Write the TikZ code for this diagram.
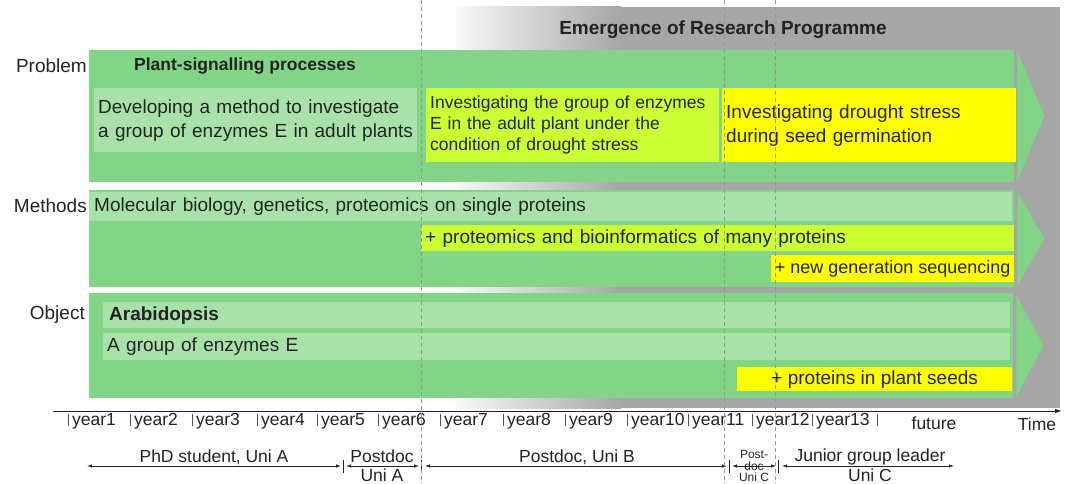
\documentclass[tikz,border=0pt]{standalone}
\usepackage{fontspec}
\setmainfont{Liberation Sans}
\usetikzlibrary{positioning,arrows.meta,calc}
\definecolor{rpGreen}{RGB}{130,213,135}
\definecolor{rpPale}{RGB}{168,226,170}
\definecolor{rpLime}{RGB}{204,255,51}
\definecolor{rpYellow}{RGB}{255,255,0}
\definecolor{rpGray}{RGB}{166,166,166}
\definecolor{rpText}{RGB}{35,35,35}
\definecolor{rpDash}{RGB}{150,150,150}
\newcommand{\fsz}[2]{\fontsize{#1}{#2}\selectfont}
\tikzset{
    base/.style={text=rpText, font=\fsz{19}{24}},
    band/.style={fill=rpGreen, anchor=north west, inner sep=0pt},
    entry/.style={base, anchor=north west, inner xsep=4pt, inner ysep=0pt, align=left},
    pale/.style={entry, fill=rpPale},
    lime/.style={entry, fill=rpLime},
    yell/.style={entry, fill=rpYellow},
    rowlabel/.style={base, anchor=east, inner sep=0pt},
    yearlabel/.style={base, font=\fsz{17.5}{20}, anchor=west, inner sep=0pt},
    careerlabel/.style={base, font=\fsz{17.5}{20}, inner sep=0pt},
    minilabel/.style={base, font=\fsz{12}{14}, inner sep=0pt},
    span/.style={{Latex[length=5pt,width=3.5pt]}-{Latex[length=5pt,width=3.5pt]}, line width=0.8pt, color=rpText},
    divider/.style={line width=0.8pt, color=rpText},
    yeartick/.style={line width=1pt, color=rpText!80},
    timeline/.style={-{Latex[length=7pt,width=4.5pt]}, line width=1pt, color=rpText},
    guide/.style={rpDash, line width=0.6pt, dash pattern=on 4pt off 3pt}
}
\begin{document}
\begin{tikzpicture}[x=1pt, y=-1pt]
  \useasboundingbox (0,0) rectangle (1068,484);

  % Research programme banner
  \shade[left color=white!92!rpGray, right color=rpGray] (456,7) rectangle (621,408);
  \fill[rpGray] (620,7) rectangle (1060,408);
  \node[base, font=\bfseries\fsz{19}{22}] (banner) at (723,30) {Emergence of Research Programme};

  % Rows
  \node[band, minimum width=925, minimum height=132] (problem) at (89,50) {};
  \node[band, minimum width=925, minimum height=97] (methods) at (89,190) {};
  \node[band, minimum width=924, minimum height=105] (object) at (89,293) {};
  \foreach \r in {problem,methods,object}
    \fill[rpGreen] ($(\r.north east)+(3,2)$) -- ($(\r.east)+(30,0)$) -- ($(\r.south east)+(3,-2)$) -- cycle;

  \node[rowlabel] (lblProblem) at (87,66) {Problem};
  \node[rowlabel] (lblMethods) at (87,206) {Methods};
  \node[rowlabel] (lblObject) at (85,315) {Object};

  % Problem row
  \node[base, font=\bfseries\fsz{17.5}{20}, anchor=west, inner sep=0pt] (plantSig) at (134,66) {Plant-signalling processes};
  \node[pale, text width=315, minimum height=64] (develop) at (94,88)
    {Developing a method to investigate\\a group of enzymes E in adult plants};
  \node[lime, font=\fsz{17.5}{21}, text width=285, minimum height=74] (adult) at (426,88)
    {Investigating the group of enzymes\\E in the adult plant under the\\condition of drought stress};
  \node[yell, text width=286, minimum height=74] (seed) at (722,88)
    {Investigating drought stress\\during seed germination};

  % Methods row
  \node[pale, inner xsep=5pt, text width=913, minimum height=29] (molbio) at (89,192)
    {Molecular biology, genetics, proteomics on single proteins};
  \node[lime, text width=585, minimum height=26] (omics) at (421,225)
    {+ proteomics and bioinformatics of many proteins};
  \node[yell, font=\fsz{18}{21}, inner xsep=0pt, minimum width=243, minimum height=27] (ngs) at (771,255)
    {+ new generation sequencing};

  % Object row
  \node[pale, font=\bfseries\fsz{19}{22}, inner xsep=6pt, text width=895, minimum height=26] (arabi) at (103,302) {Arabidopsis};
  \node[pale, text width=899, minimum height=27] (enzymes) at (103,333) {A group of enzymes E};
  \node[yell, inner xsep=0pt, minimum width=275, minimum height=24] (seeds) at (737,367)
    {+ proteins in plant seeds};

  % Time axis
  \coordinate (tStart) at (53,411);
  \coordinate (tEnd) at (1062,411);
  \draw[timeline] (tStart) -- (tEnd);
  \foreach \x/\n in {68/1,130/2,192/3,257/4,317/5,378/6,440/7,503/8,565/9,627/10,688/11,752/12,812/13}{
    \draw[yeartick] (\x,414) -- (\x,426);
    \node[yearlabel] (year\n) at ({\x+4},421) {year\n};
  }
  \draw[yeartick] (877,414) -- (877,426);
  \node[yearlabel, anchor=center] (future) at (934,423) {future};
  \node[yearlabel, anchor=center] (time) at (1037,424) {Time};

  % Career stages
  \coordinate (c0) at (87,466);
  \coordinate (c1) at (343,466);
  \coordinate (c2) at (421,466);
  \coordinate (c3) at (729,466);
  \coordinate (c4) at (778,466);
  \coordinate (c5) at (954,466);
  \foreach \c in {c1,c2,c3,c4}
    \draw[divider] ([yshift=6]\c) -- ([yshift=-7]\c);
  \draw[span] (c0) -- ([xshift=-2]c1);
  \draw[span] ([xshift=3]c1) -- ([xshift=-2]c2);
  \draw[span] ([xshift=4]c2) -- ([xshift=-2]c3);
  \draw[span] ([xshift=3]c3) -- ([xshift=-2]c4);
  \draw[span] ([xshift=4]c4) -- (c5);

  \node[careerlabel] (phd) at (214,457) {PhD student, Uni A};
  \node[careerlabel] (pdA) at (382,456) {Postdoc};
  \node[careerlabel] (pdAuni) at (382,475) {Uni A};
  \node[careerlabel] (pdB) at (577,457) {Postdoc, Uni B};
  \node[minilabel] (pdC) at (754,454) {Post-};
  \node[minilabel] (pdCdoc) at (754,466) {doc};
  \node[minilabel] (pdCuni) at (754,477) {Uni C};
  \node[careerlabel] (jgl) at (870,457) {Junior group leader};
  \node[careerlabel] (jglUni) at (870,475) {Uni C};

  % Stage boundaries
  \foreach \x in {421,724,775}
    \draw[guide] (\x,0) -- (\x,484);
\end{tikzpicture}
\end{document}
